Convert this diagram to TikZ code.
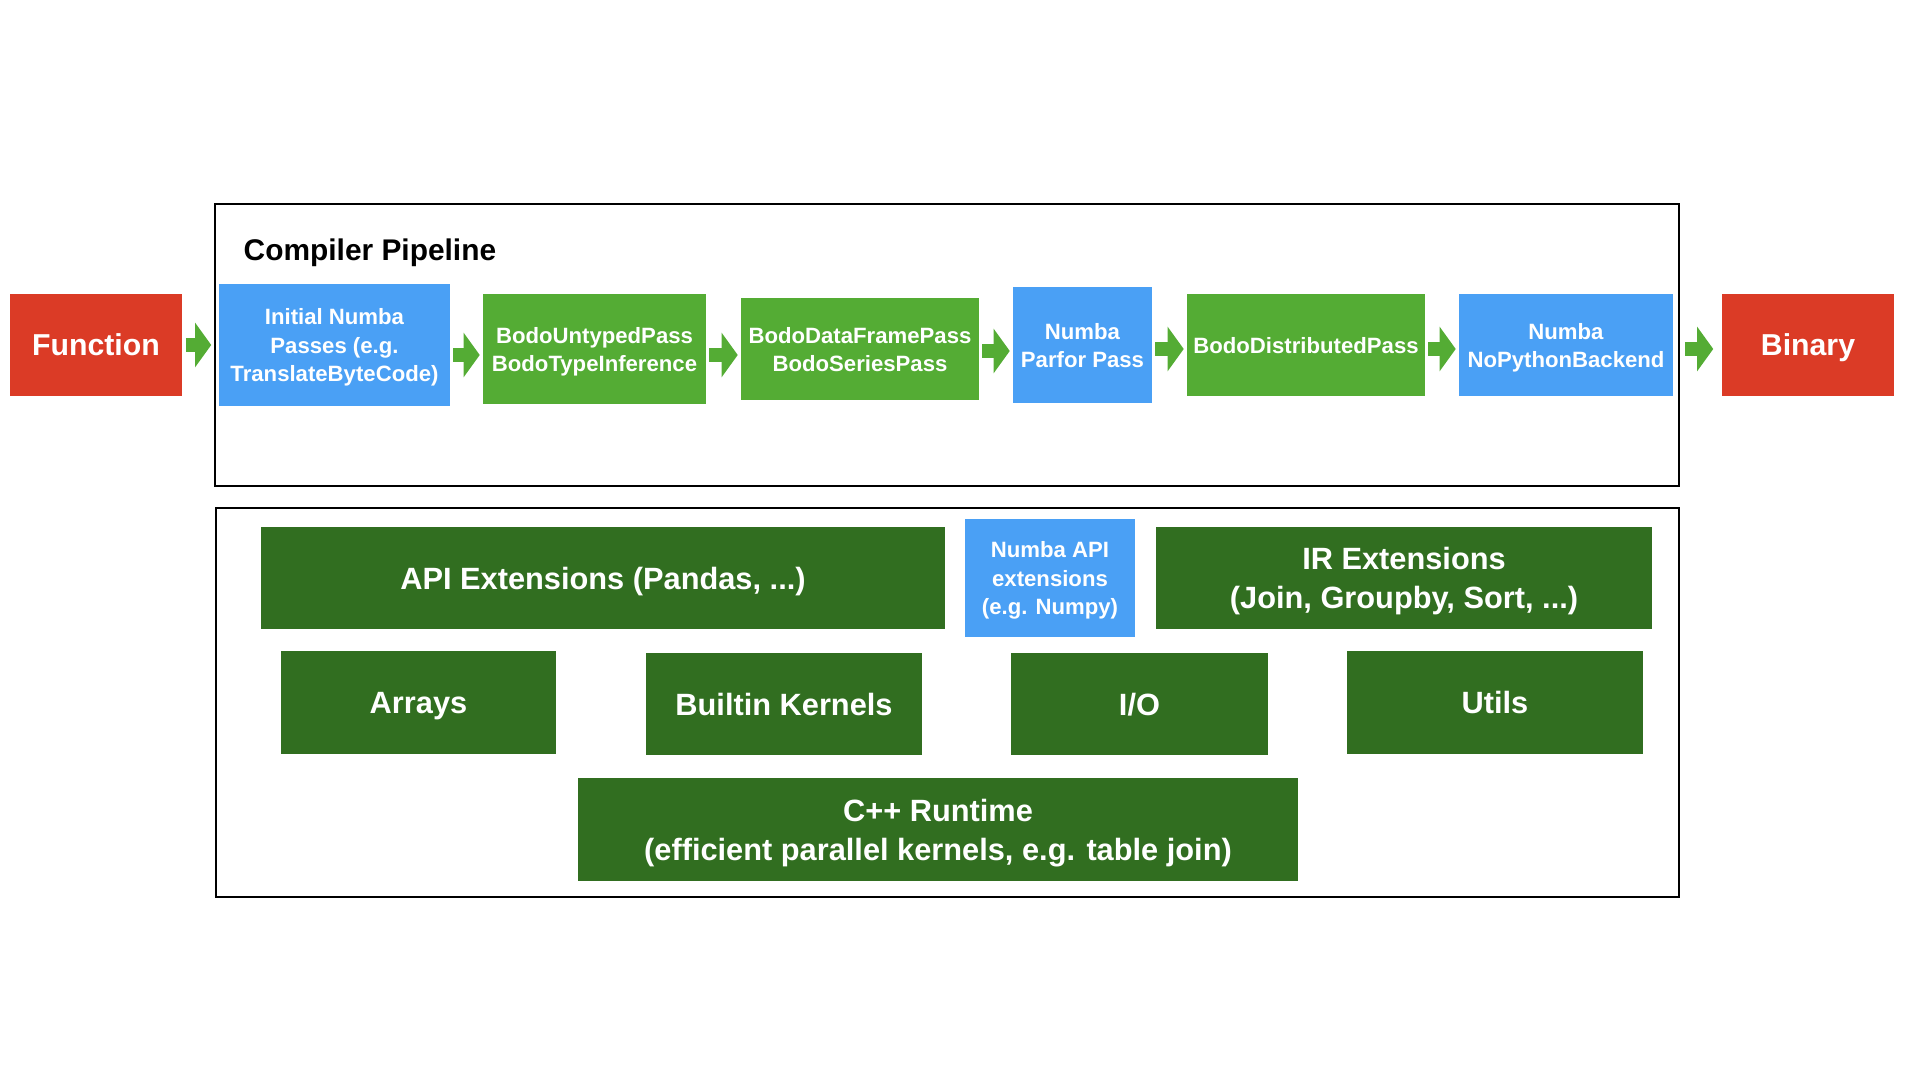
\documentclass[tikz,border=0pt]{standalone}
\usepackage{fontspec}
\setmainfont{Liberation Sans}
\usetikzlibrary{arrows.meta}
\definecolor{fnred}{RGB}{219,59,38}
\definecolor{numbablue}{RGB}{74,160,245}
\definecolor{bodogreen}{RGB}{84,172,52}
\definecolor{extgreen}{RGB}{49,110,32}

\begin{document}
\begin{tikzpicture}[x=0.01cm,y=-0.01cm,
    passbox/.style={inner sep=0pt,align=center,text=white,text depth=0pt,font=\bfseries\fontsize{6.3}{7.97}\selectfont},
    endbox/.style={passbox,fill=fnred,minimum width=1.72cm,minimum height=1.02cm,font=\bfseries\fontsize{8.6}{10}\selectfont},
    numba/.style={passbox,fill=numbablue},
    bodo/.style={passbox,fill=bodogreen},
    ext/.style={passbox,fill=extgreen,font=\bfseries\fontsize{8.75}{11.1}\selectfont},
    flow/.style={draw=bodogreen,line width=3.98pt,-{Triangle[width=12.5pt,length=4.6pt]},shorten <=0.025cm,shorten >=0.025cm},
    groupframe/.style={draw=black,line width=0.6pt}]
            \useasboundingbox (0,0) rectangle (1920,1080);
            \draw[groupframe] (215,204) rectangle (1679,486);
            \draw[groupframe] (216,508) rectangle (1679,897);
            \node[anchor=west,inner sep=0pt,font=\bfseries\fontsize{8.5}{10}\selectfont] (pipelabel) at (243,253) {Compiler Pipeline};

            \node[endbox] (fn) at (96,345) {Function};
            \node[numba,minimum width=2.31cm,minimum height=1.22cm] (init) at (334.5,345) {Initial Numba\\Passes (e.g.\\TranslateByteCode)};
            \node[bodo,minimum width=2.23cm,minimum height=1.10cm] (untyped) at (594.5,349) {BodoUntypedPass\\BodoTypeInference};
            \node[bodo,minimum width=2.38cm,minimum height=1.02cm] (dataframe) at (860,349) {BodoDataFramePass\\BodoSeriesPass};
            \node[numba,minimum width=1.39cm,minimum height=1.16cm] (parfor) at (1082.5,345) {Numba\\Parfor Pass};
            \node[bodo,minimum width=2.38cm,minimum height=1.02cm] (distributed) at (1306,345) {BodoDistributedPass};
            \node[numba,minimum width=2.14cm,minimum height=1.02cm] (nopython) at (1566,345) {Numba\\NoPythonBackend};
            \node[endbox] (binary) at (1808,345) {Binary};

            \draw[flow,shorten <=0.03cm,shorten >=0.07cm] (fn.east) -- (fn.east -| init.west);
            \draw[flow] ([yshift=-0.1cm]init.east) -- ([yshift=-0.1cm]init.east -| untyped.west);
            \draw[flow] ([yshift=-0.06cm]untyped.east) -- ([yshift=-0.06cm]untyped.east -| dataframe.west);
            \draw[flow] ([yshift=-0.02cm]dataframe.east) -- ([yshift=-0.02cm]dataframe.east -| parfor.west);
            \draw[flow] ([yshift=-0.04cm]parfor.east) -- ([yshift=-0.04cm]parfor.east -| distributed.west);
            \draw[flow] ([yshift=-0.04cm]distributed.east) -- ([yshift=-0.04cm]distributed.east -| nopython.west);
            \draw[flow,shorten <=0.11cm,shorten >=0.08cm] ([yshift=-0.04cm]nopython.east) -- ([yshift=-0.04cm]nopython.east -| binary.west);

            \node[ext,minimum width=6.84cm,minimum height=1.02cm] (apiext) at (603,578) {API Extensions (Pandas, ...)};
            \node[numba,minimum width=1.70cm,minimum height=1.18cm] (numbaapi) at (1050,578) {Numba API\\extensions\\(e.g. Numpy)};
            \node[ext,minimum width=4.96cm,minimum height=1.02cm] (irext) at (1404,578) {IR Extensions\\(Join, Groupby, Sort, ...)};
            \node[ext,minimum width=2.75cm,minimum height=1.03cm] (arrays) at (418.5,702.5) {Arrays};
            \node[ext,minimum width=2.76cm,minimum height=1.02cm] (builtin) at (784,704) {Builtin Kernels};
            \node[ext,minimum width=2.57cm,minimum height=1.02cm] (io) at (1139.5,704) {I/O};
            \node[ext,minimum width=2.96cm,minimum height=1.03cm] (utils) at (1495,702.5) {Utils};
            \node[ext,minimum width=7.20cm,minimum height=1.03cm] (runtime) at (938,829.5) {C++ Runtime\\(efficient parallel kernels, e.g. table join)};
        \end{tikzpicture}
\end{document}
